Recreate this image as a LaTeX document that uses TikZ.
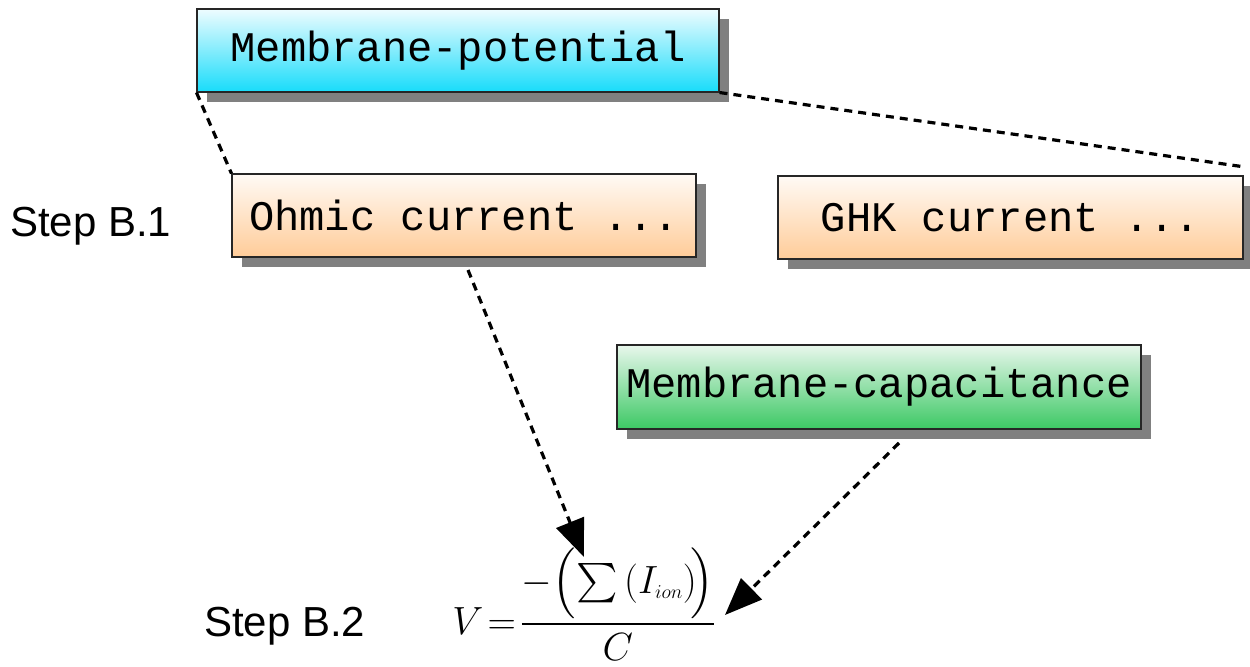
\RequirePackage{fix-cm}
\documentclass[tikz,border=0pt]{standalone}
\usepackage{fontspec}
\DeclareFontFamily{OMX}{cmex}{}
\DeclareFontShape{OMX}{cmex}{m}{n}{<->cmex10}{}
\newfontfamily\monof{Liberation Mono}
\newfontfamily\sansf{Liberation Sans}
\usetikzlibrary{shadows,arrows.meta,shapes.geometric}
\definecolor{cyanbot}{RGB}{24,220,250}
\definecolor{cyantop}{RGB}{238,252,255}
\definecolor{peachbot}{RGB}{255,204,153}
\definecolor{peachtop}{RGB}{255,250,245}
\definecolor{greenbot}{RGB}{60,200,100}
\definecolor{greentop}{RGB}{232,247,236}
\definecolor{shadowgray}{RGB}{128,128,128}
\tikzset{
  box/.style={draw=black!85, line width=0.8pt, rectangle, inner sep=0pt,
    font=\monof\fontsize{31.6}{36}\selectfont,
    drop shadow={shadow xshift=7.5pt, shadow yshift=-7.5pt, opacity=1, fill=shadowgray}},
  cyanbox/.style={box, top color=cyantop, bottom color=cyanbot},
  peachbox/.style={box, top color=peachtop, bottom color=peachbot},
  greenbox/.style={box, top color=greentop, bottom color=greenbot},
  steplabel/.style={anchor=base west, inner sep=0pt, font=\sansf\fontsize{31.5}{36}\selectfont},
  link/.style={line width=2.4pt, dash pattern=on 6pt off 4.5pt},
  arrowlink/.style={link, -{Triangle[length=28pt,width=22pt]}}
}
\begin{document}
\begin{tikzpicture}[x=0.75pt, y=-0.75pt]
\useasboundingbox (0,0) rectangle (1250,667);
\node[cyanbox, minimum width=391.5pt, minimum height=62.25pt] (mp) at (458,50.5) {Membrane-potential};
\node[peachbox, minimum width=348pt, minimum height=62.25pt] (ohm) at (464,215.5) {Ohmic current ...};
\node[peachbox, minimum width=348.75pt, minimum height=62.25pt] (ghk) at (1010.5,217.5) {GHK current ...};
\node[greenbox, minimum width=393pt, minimum height=63pt] (cap) at (879,387) {Membrane-capacitance};
\node[steplabel] (s1) at (10,236) {Step B.1};
\node[steplabel] (s2) at (204,636) {Step B.2};
\node[anchor=base west, inner sep=0pt, font=\fontsize{29.5}{36}\selectfont] (eq) at (452,634)
  {$\displaystyle V\!=\!\frac{-\!\left(\rule[-0.25em]{0pt}{1.3em}\!\sum\left(\rule[-0.25em]{0pt}{1.05em}I_{\scriptscriptstyle ion}\right)\!\right)}{C}$};
\coordinate (gr) at (1245,167);
\coordinate (a1s) at (468,270);
\coordinate (a1e) at (584,557);
\coordinate (a2s) at (899,443);
\coordinate (a2e) at (725,615);
\draw[link] (mp.south west) -- (ohm.north west);
\draw[link] (mp.south east) -- (gr);
\draw[arrowlink] (a1s) -- (a1e);
\draw[arrowlink] (a2s) -- (a2e);
\end{tikzpicture}
\end{document}
